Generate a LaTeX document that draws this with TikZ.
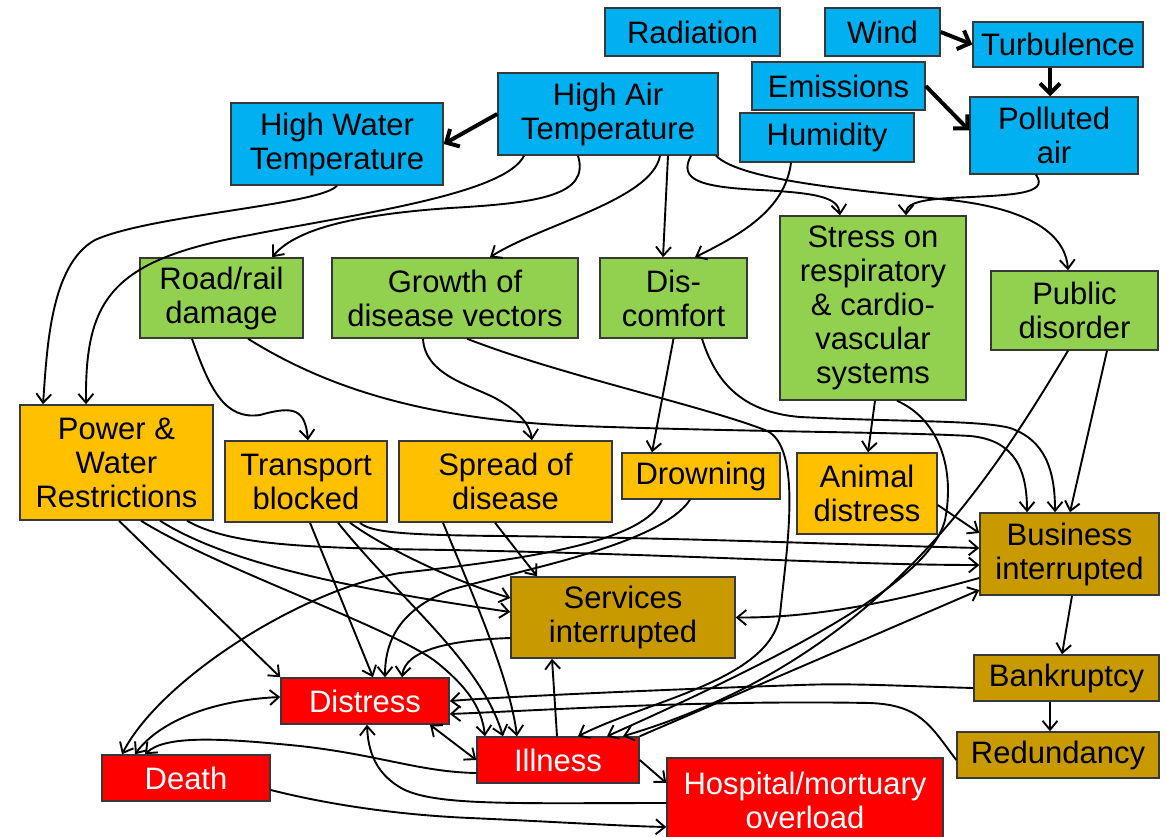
\documentclass[tikz,border=0pt]{standalone}
\usepackage{fontspec}
\setmainfont{Liberation Sans}
\usetikzlibrary{arrows.meta}
\definecolor{skyb}{HTML}{00B0F0}
\definecolor{leaf}{HTML}{92D050}
\definecolor{amber}{HTML}{FFC000}
\definecolor{ochre}{HTML}{C99A00}
\definecolor{alarm}{HTML}{FF0000}
\definecolor{boxline}{HTML}{383838}
\begin{document}
\begin{tikzpicture}[x=1pt,y=-1pt,
  cbox/.style={draw=boxline, line width=1.5pt, inner sep=0pt, align=center,
    font=\fontsize{31}{34}\selectfont},
  cause/.style={cbox, fill=skyb},
  effect/.style={cbox, fill=leaf},
  impact/.style={cbox, fill=amber},
  econ/.style={cbox, fill=ochre},
  harm/.style={cbox, fill=alarm, text=white},
  link/.style={line width=1.9pt, -{Straight Barb[length=9pt,width=15pt]}},
  link2/.style={line width=1.9pt, {Straight Barb[length=9pt,width=15pt]}-{Straight Barb[length=9pt,width=15pt]}},
  strong/.style={line width=4pt, -{Straight Barb[length=10pt,width=20pt]}},
]
\useasboundingbox (0,0) rectangle (1166,837);
\clip (0,0) rectangle (1166,837);

% weather drivers
\node[cause, minimum width=175pt, minimum height=48pt] (rad)   at (692.5,32)  {Radiation};
\node[cause, minimum width=115pt, minimum height=48pt] (wind)  at (882.5,32)  {Wind};
\node[cause, minimum width=170pt, minimum height=45pt] (turb)  at (1058,44.5) {Turbulence};
\node[cause, minimum width=173pt, minimum height=48pt] (emis)  at (838.5,86)  {Emissions};
\node[cause, minimum width=174pt, minimum height=49pt] (humid) at (827,137.5)  {Humidity};
\node[cause, minimum width=168pt, minimum height=77pt] (poll)  at (1054,135.5) {Polluted\\air};
\node[cause, minimum width=220pt, minimum height=82pt] (hat)   at (608,114)   {High Air\\Temperature};
\node[cause, minimum width=212pt, minimum height=82pt] (hwt)   at (337,144)   {High Water\\Temperature};

% first-order effects
\node[effect, minimum width=163pt, minimum height=80pt]  (road)   at (221.5,298) {Road/rail\\damage};
\node[effect, minimum width=246pt, minimum height=80pt]  (growth) at (455,298)   {Growth of\\disease vectors};
\node[effect, minimum width=147pt, minimum height=80pt]  (disc)   at (673.5,298) {Dis-\\comfort};
\node[effect, minimum width=186pt, minimum height=184pt] (stress) at (873,308)   {Stress on\\respiratory\\\& cardio-\\vascular\\systems};
\node[effect, minimum width=167pt, minimum height=79pt]  (public) at (1074.5,310.5) {Public\\disorder};

% second-order impacts
\node[impact, minimum width=193pt, minimum height=115pt] (pw)     at (116.5,462.5) {Power \&\\Water\\Restrictions};
\node[impact, minimum width=162pt, minimum height=81pt]  (trans)  at (306,481.5)   {Transport\\blocked};
\node[impact, minimum width=213pt, minimum height=81pt]  (spread) at (505.5,481.5) {Spread of\\disease};
\node[impact, minimum width=158pt, minimum height=46pt]  (drown)  at (701,476)     {Drowning};
\node[impact, minimum width=140pt, minimum height=81pt]  (animal) at (867,493.5)   {Animal\\distress};

% economic consequences
\node[econ, minimum width=179pt, minimum height=82pt] (busi)   at (1069.5,554) {Business\\interrupted};
\node[econ, minimum width=224pt, minimum height=81pt] (serv)   at (623,617.5)  {Services\\interrupted};
\node[econ, minimum width=185pt, minimum height=46pt] (bank)   at (1066.5,678) {Bankruptcy};
\node[econ, minimum width=202pt, minimum height=46pt] (redund) at (1058,755)   {Redundancy};

% human harm
\node[harm, minimum width=168pt, minimum height=46pt] (distress) at (365,701) {Distress};
\node[harm, minimum width=162pt, minimum height=46pt] (illness)  at (558,760) {Illness};
\node[harm, minimum width=168pt, minimum height=46pt] (death)    at (186,778) {Death};
\node[harm, minimum width=276pt, minimum height=84pt] (hosp)     at (805,800) {Hospital/mortuary\\overload};

% strong links among the drivers
\draw[strong] (wind.east) -- (turb.west);
\draw[strong] ([xshift=-8pt]turb.south) -- ([xshift=-4pt]poll.north);
\draw[strong] (emis.east) -- ([yshift=5pt]poll.west);
\draw[strong] (hat.west) -- (hwt.east);

% from the drivers
\draw[link] (hwt.south) .. controls (320,205) and (150,215) .. (95,240)
  .. controls (50,265) and (47,350) .. ([xshift=-73.5pt]pw.north);
\draw[link] ([xshift=-84pt]hat.south) .. controls (505,195) and (350,215) .. (250,235)
  .. controls (110,260) and (85,300) .. ([xshift=-30.5pt]pw.north);
\draw[link] ([xshift=-30pt]hat.south) .. controls (590,195) and (540,203) .. (450,208)
  .. controls (350,215) and (295,230) .. ([xshift=50.5pt]road.north);
\draw[link] ([xshift=52pt]hat.south) .. controls (652,200) and (540,225) .. ([xshift=35pt]growth.north);
\draw[link] ([xshift=60pt]hat.south) -- ([xshift=-10.5pt]disc.north);
\draw[link] ([xshift=83pt]hat.south) .. controls (678,180) and (700,187) .. (760,190)
  .. controls (820,193) and (838,198) .. ([xshift=-33pt]stress.north);
\draw[link] ([xshift=108pt]hat.south) .. controls (740,180) and (850,190) .. (950,200)
  .. controls (1040,210) and (1066,240) .. ([xshift=-6.5pt]public.north);
\draw[link] ([xshift=-36pt]humid.south) .. controls (785,210) and (740,235) .. ([xshift=21.5pt]disc.north);
\draw[link] ([xshift=-18pt]poll.south) .. controls (1050,195) and (1010,195) .. (950,198)
  .. controls (915,200) and (906,205) .. ([xshift=33pt]stress.north);

% from the first-order effects
\draw[link] ([xshift=-29.5pt]road.south) .. controls (210,390) and (225,420) .. (260,415)
  .. controls (295,405) and (305,410) .. ([xshift=2pt]trans.north);
\draw[link] ([xshift=26.5pt]road.south) .. controls (330,390) and (430,420) .. (580,426)
  .. controls (750,432) and (900,432) .. (970,436)
  .. controls (1015,440) and (1027,470) .. ([xshift=-42.5pt]busi.north);
\draw[link] ([xshift=28.5pt]disc.south) .. controls (715,380) and (740,412) .. (800,417)
  .. controls (900,422) and (980,420) .. (1010,428)
  .. controls (1045,440) and (1055,470) .. ([xshift=-14.5pt]busi.north);
\draw[link] (disc.south) -- ([xshift=-49pt]drown.north);
\draw[link] ([xshift=-32pt]growth.south) .. controls (425,375) and (470,385) .. (495,398)
  .. controls (520,412) and (530,425) .. ([xshift=26.5pt]spread.north);
\draw[link] ([xshift=12pt]growth.south) .. controls (560,375) and (700,405) .. (765,430)
  .. controls (805,445) and (785,560) .. (780,615)
  .. controls (770,680) and (650,700) .. ([xshift=20pt]illness.north);
\draw[link] ([xshift=2pt]stress.south) -- ([xshift=1pt]animal.north);
\draw[link] ([xshift=24pt]stress.south) .. controls (940,420) and (955,470) .. (945,520)
  .. controls (930,580) and (800,650) .. ([xshift=49pt]illness.north);
\draw[link] ([xshift=32.5pt]public.south) -- ([xshift=0.5pt]busi.north);
\draw[link] ([xshift=-6.5pt]public.south) .. controls (990,480) and (880,660) .. ([xshift=65pt]illness.north);

% from the second-order impacts
\draw[link] ([xshift=2.5pt]pw.south) -- (distress.north west);
\draw[link] ([xshift=24.5pt]pw.south) .. controls (220,570) and (400,630) .. (440,665)
  .. controls (470,690) and (482,710) .. ([xshift=-73pt]illness.north);
\draw[link] ([xshift=43.5pt]pw.south) .. controls (230,565) and (360,590) .. ([yshift=5.5pt]serv.west);
\draw[link] ([xshift=70.5pt]pw.south) .. controls (230,545) and (300,548) .. (450,550)
  .. controls (700,555) and (850,565) .. ([yshift=-11pt]busi.west);
\draw[link] ([xshift=4pt]trans.south) -- ([xshift=8pt]distress.north);
\draw[link] ([xshift=32pt]trans.south) .. controls (400,600) and (480,660) .. ([xshift=-55pt]illness.north);
\draw[link] ([xshift=44pt]trans.south) .. controls (380,545) and (450,580) .. ([yshift=19.5pt]serv.west);
\draw[link] ([xshift=54pt]trans.south) .. controls (370,532) and (400,535) .. (500,536)
  .. controls (700,538) and (850,545) .. ([yshift=6pt]busi.west);
\draw[link] ([xshift=-10.5pt]spread.south) -- ([xshift=-86pt]serv.north);
\draw[link] ([xshift=-62.5pt]spread.south) .. controls (475,600) and (510,680) .. ([xshift=-41pt]illness.north);
\draw[link] ([xshift=-39pt]drown.south) .. controls (645,540) and (540,558) .. (400,573)
  .. controls (300,590) and (160,680) .. ([xshift=-64pt]death.north);
\draw[link] ([xshift=-11pt]drown.south) .. controls (660,545) and (520,570) .. (450,590)
  .. controls (400,610) and (385,640) .. ([xshift=20pt]distress.north);
\draw[link] ([yshift=-11.5pt]animal.east) -- ([yshift=21pt]busi.west);

% economic chain
\draw[link] ([yshift=-20.5pt]serv.west) .. controls (450,640) and (405,650) .. ([xshift=37pt]distress.north);
\draw[link] ([yshift=-24pt]busi.west) .. controls (900,600) and (820,618) .. (serv.east);
\draw[link] (illness.north east) -- ([yshift=-36pt]busi.west);
\draw[link] ([xshift=2.5pt]busi.south) -- ([xshift=-4.5pt]bank.north);
\draw[link] ([xshift=-16.5pt]bank.south) -- ([xshift=-8pt]redund.north);
\draw[link] ([yshift=-10pt]bank.west) .. controls (900,686) and (850,683) .. (800,685)
  .. controls (650,690) and (500,697) .. (distress.east);
\draw[link] ([yshift=-5pt]redund.west) .. controls (930,725) and (920,705) .. (870,703)
  .. controls (700,700) and (550,710) .. ([yshift=-13pt]distress.east);

% human harm
\draw[link] ([xshift=-1pt]illness.north) -- ([xshift=-71pt]serv.south);
\draw[link2] ([xshift=65pt]distress.south) -- (illness.west);
\draw[link] (illness.east) -- ([yshift=17pt]hosp.west);
\draw[link] ([yshift=-3pt]hosp.west) .. controls (520,803) and (440,806) .. (405,790)
  .. controls (375,775) and (368,750) .. ([xshift=2pt]distress.south);
\draw[link] ([yshift=-12pt]death.east) .. controls (330,805) and (400,815) .. (470,818)
  .. controls (560,822) and (620,826) .. ([yshift=-27pt]hosp.west);
\draw[link] ([yshift=-13pt]illness.west) .. controls (420,772) and (380,755) .. (300,746)
  .. controls (220,738) and (165,735) .. ([xshift=-41pt]death.north);
\draw[link2] ([xshift=-51pt]death.north) .. controls (160,720) and (215,700) .. ([yshift=4pt]distress.west);
\end{tikzpicture}
\end{document}
